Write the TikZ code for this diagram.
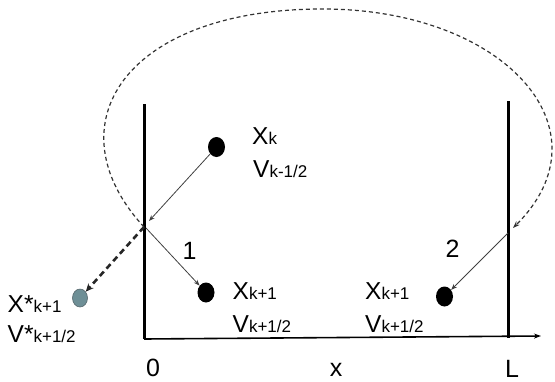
\documentclass[tikz,border=0pt]{standalone}
\usepackage{fontspec}
\setmainfont{Liberation Sans}
\usetikzlibrary{shapes.geometric,arrows.meta}
\definecolor{dotgray}{HTML}{6E8F96}
\definecolor{dotedge}{HTML}{56676C}
\newcommand{\sublab}[2]{#1{\fontsize{17}{19}\selectfont #2}}
\begin{document}
\begin{tikzpicture}[x=1pt,y=-1pt,
  dotb/.style={ellipse,fill=black,minimum width=17pt,minimum height=20pt,inner sep=0pt},
  dotg/.style={ellipse,fill=dotgray,draw=dotedge,line width=0.6pt,minimum width=15pt,minimum height=18pt,inner sep=0pt},
  lab/.style={anchor=base west,inner sep=0pt,font=\fontsize{24.5}{27}\selectfont},
  num/.style={anchor=base,inner sep=0pt,font=\fontsize{25}{28}\selectfont},
  wall/.style={line width=3pt},
  axisline/.style={line width=1.6pt,-{Stealth[length=7pt,width=5pt]}},
  thinarr/.style={draw=black!75,line width=0.8pt,-{Stealth[length=6pt,width=4.5pt]}},
  loopdash/.style={draw=black!80,line width=1.2pt,dash pattern=on 4pt off 3pt,-{Stealth[length=7pt,width=5pt]}},
  thickdash/.style={draw=black!85,line width=2.6pt,dash pattern=on 6pt off 4pt,-{Stealth[length=8pt,width=7pt]}}]
\useasboundingbox (0,0) rectangle (555,381);
% walls and axis
\coordinate (lwt) at (144,104);
\coordinate (lwb) at (144,339);
\coordinate (rwt) at (508,101);
\coordinate (rwb) at (508,338);
\coordinate (axe) at (541,336);
\draw[wall] (lwt) -- (lwb);
\draw[wall] (rwt) -- (rwb);
\draw[axisline] (lwb) -- (axe);
% wall points
\coordinate (w0) at (144,227);
\coordinate (w1) at (149,221);
\coordinate (w2) at (146,228);
\coordinate (r0) at (513,228);
\coordinate (r1) at (508,233);
% dots
\node[dotb] (dk) at (216.5,147) {};
\node[dotb] (d1) at (206,292.5) {};
\node[dotb] (d2) at (444.5,296.5) {};
\node[dotg] (dg) at (80,298) {};
% labels
\node[lab] (lxk) at (252,144) {\sublab{X}{k}};
\node[lab] (lvk) at (253,177) {\sublab{V}{k-1/2}};
\node[lab] (lx1) at (232.5,299) {\sublab{X}{k+1}};
\node[lab] (lv1) at (232.5,332) {\sublab{V}{k+1/2}};
\node[lab] (lx2) at (365,299) {\sublab{X}{k+1}};
\node[lab] (lv2) at (365,332) {\sublab{V}{k+1/2}};
\node[lab] (lxs) at (7.5,312) {\sublab{X*}{k+1}};
\node[lab] (lvs) at (7.5,342) {\sublab{V*}{k+1/2}};
\node[num] (n1) at (189.5,259) {1};
\node[num] (n2) at (452.5,257) {2};
\node[num] (n0) at (153,376) {0};
\node[num] (nx) at (336,376) {x};
\node[num] (nl) at (512,377) {L};
% connectors
\draw[thinarr] (dk) -- (w1);
\draw[thinarr] (w2) -- (d1);
\draw[thinarr] (r1) -- (d2);
\draw[thickdash] (w0) -- (dg);
\draw[loopdash] (w0) .. controls (50,125) and (125,8) .. (325,9)
  .. controls (505,10) and (612,130) .. (r0);
\end{tikzpicture}
\end{document}
